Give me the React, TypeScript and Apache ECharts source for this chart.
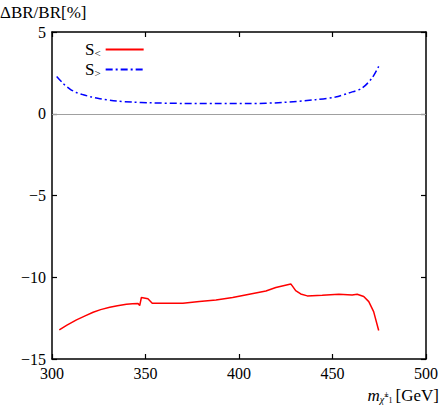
import React, { useEffect, useRef } from "react";
import * as echarts from "echarts";

const sLessX = [303.9, 308, 313.1, 318, 322, 326, 330.9, 335, 339.8, 343, 346, 346.9, 347.8, 351.3, 353.6, 361, 370, 378.8, 387.7, 396.6, 405.5, 414.4, 419.7, 427.7, 428.5, 430.3, 433, 436.5, 444.5, 453.4, 460.5, 463.2, 466.7, 469.4, 472, 474.7];
const sLessY = [-13.22, -12.93, -12.61, -12.35, -12.14, -11.98, -11.84, -11.74, -11.65, -11.62, -11.61, -11.73, -11.24, -11.32, -11.59, -11.59, -11.59, -11.49, -11.39, -11.24, -11.04, -10.84, -10.63, -10.41, -10.53, -10.82, -11.02, -11.14, -11.1, -11.04, -11.08, -11.04, -11.18, -11.49, -12.1, -13.26];

const sGreaterX = [302.5, 306, 309.6, 313, 316.7, 321, 325.6, 334.5, 343, 352.2, 370, 387.7, 405.5, 423.2, 441, 451.6, 458.7, 465.8, 471.1, 474.7];
const sGreaterY = [2.28, 1.85, 1.51, 1.3, 1.16, 1.03, 0.92, 0.78, 0.71, 0.67, 0.63, 0.62, 0.62, 0.69, 0.86, 1.02, 1.27, 1.57, 2.18, 2.9];

const xTicks = [300, 350, 400, 450, 500];
const yTicks = [-15, -10, -5, 0, 5];

const FONT = "Liberation Serif";

export default function App() {
  const ref = useRef<HTMLDivElement>(null);
  useEffect(() => {
    const chart = echarts.init(ref.current!, null, { renderer: "svg" });
    const fmtY = (v: number) => (v < 0 ? "\u2212" + Math.abs(v) : String(v));
    const axisCommon = {
      axisLine: { show: true, onZero: false, lineStyle: { color: "#000", width: 1.5 } },
      axisTick: { show: true, inside: true, length: 5, lineStyle: { color: "#000", width: 1.2 } },
      splitLine: { show: false },
    };
    chart.setOption({
      animation: false,
      backgroundColor: "#fff",
      grid: { left: 52, right: 13.5, top: 32, bottom: 50, containLabel: false },
      legend: {
        left: 80,
        top: 36,
        orient: "vertical",
        align: "right",
        itemWidth: 38,
        itemHeight: 10,
        itemGap: 3,
        data: ["S<", "S>"],
        itemStyle: { opacity: 0 },
        formatter: (name: string) => `{s|S}{sub|${name.slice(1)}}`,
        textStyle: {
          fontFamily: FONT,
          color: "#000",
          rich: {
            s: { fontFamily: FONT, fontSize: 17, color: "#000" },
            sub: { fontFamily: FONT, fontSize: 11, color: "#000", verticalAlign: "bottom", padding: [6, 0, 0, 0] },
          },
        },
      },
      xAxis: [
        {
          type: "value",
          min: 300,
          max: 500,
          interval: 50,
          position: "bottom",
          ...axisCommon,
          axisLabel: {
            fontFamily: FONT,
            fontSize: 16,
            color: "#000",
            margin: 6,
            formatter: (v: number) => (xTicks.includes(v) ? String(v) : ""),
          },
        },
        {
          type: "value",
          min: 300,
          max: 500,
          interval: 50,
          position: "top",
          ...axisCommon,
          axisLabel: { show: false },
        },
      ],
      yAxis: [
        {
          type: "value",
          min: -15,
          max: 5,
          interval: 5,
          position: "left",
          ...axisCommon,
          axisLabel: {
            fontFamily: FONT,
            fontSize: 16,
            color: "#000",
            margin: 6,
            formatter: (v: number) => (yTicks.includes(v) ? fmtY(v) : ""),
          },
        },
        {
          type: "value",
          min: -15,
          max: 5,
          interval: 5,
          position: "right",
          ...axisCommon,
          axisLabel: { show: false },
        },
      ],
      series: [
        {
          name: "S<",
          type: "line",
          symbol: "none",
          smooth: false,
          data: sLessX.map((x, i) => [x, sLessY[i]]),
          lineStyle: { color: "#ff0000", width: 1.5 },
          itemStyle: { color: "#ff0000" },
          markLine: {
            silent: true,
            symbol: ["none", "none"],
            label: { show: false },
            lineStyle: { color: "#a0a0a0", width: 1, type: "solid" },
            data: [{ yAxis: 0 }],
          },
        },
        {
          name: "S>",
          type: "line",
          symbol: "none",
          smooth: 0.3,
          data: sGreaterX.map((x, i) => [x, sGreaterY[i]]),
          lineStyle: { color: "#0000ff", width: 1.5, type: [7, 3, 2, 3] },
          itemStyle: { color: "#0000ff" },
        },
      ],
      graphic: [
        {
          type: "text",
          left: 0,
          top: 4,
          style: { text: "\u0394BR/BR[%]", fontFamily: FONT, fontSize: 17, fill: "#000" },
        },
        {
          type: "text",
          right: 2,
          top: 387,
          style: {
            text: "{m|m}{sub|\u03C7\u0303}{sup|\u00B1}{sub2|1} {g|[GeV]}",
            fontFamily: FONT,
            rich: {
              m: { fontFamily: FONT, fontStyle: "italic", fontSize: 17, fill: "#000" },
              sub: { fontFamily: FONT, fontStyle: "italic", fontSize: 10, fill: "#000", padding: [8, 0, 0, 0] },
              sup: { fontFamily: FONT, fontSize: 8, fill: "#000", padding: [0, 0, 2, 0] },
              sub2: { fontFamily: FONT, fontSize: 8, fill: "#000", padding: [10, 0, 0, 0] },
              g: { fontFamily: FONT, fontSize: 17, fill: "#000" },
            },
          },
        },
      ],
    });
    return () => chart.dispose();
  }, []);
  return <div ref={ref} style={{ width: 441, height: 409, position: "absolute", left: 0, top: 0 }} />;
}
